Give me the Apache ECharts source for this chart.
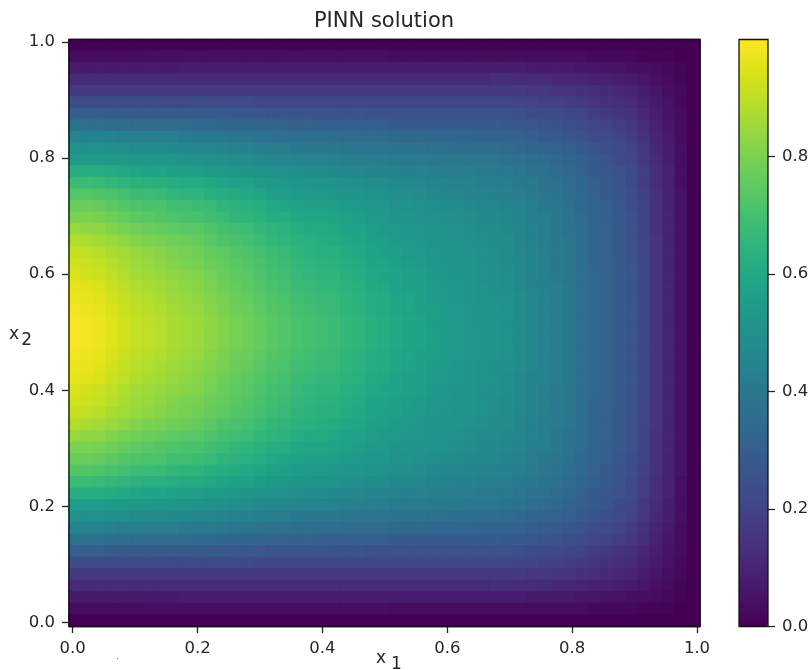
<!DOCTYPE html>
<html><head><meta charset="utf-8">
<style>html,body{margin:0;padding:0;background:#fff}#c{width:811px;height:670px}</style>
<script src="https://cdn.jsdelivr.net/npm/echarts@6/dist/echarts.min.js"></script>
</head><body><div id="c"></div>
<script>
const chartTitle = 'PINN solution';
const x1Categories = Array.from({length:51},(_, i)=>(i*0.02).toFixed(2));
const x2Categories = Array.from({length:51},(_, i)=>(i*0.02).toFixed(2));
const colorbarTicks = [0,0.2,0.4,0.6,0.8];
const viridis = ['#440154','#471365','#482475','#463480','#414487','#3b528b','#355f8d','#2f6c8e','#2a788e','#25848e','#21918c','#1e9c89','#22a884','#2fb47c','#44bf70','#5ec962','#7ad151','#9bd93c','#bddf26','#dfe318','#fde725'];
// solution values in hundredths; first row is x2 = 1.0, last row is x2 = 0.0; columns run x1 = 0 to 1
const solution = [
[0,0,0,0,0,0,0,0,0,0,0,0,0,0,0,0,0,0,0,0,0,0,0,0,0,0,0,0,0,0,0,0,0,0,0,0,0,0,0,0,0,0,0,0,0,0,0,0,0,0,0],
[3,3,3,3,3,3,4,4,4,4,4,4,4,4,4,4,4,4,4,4,4,4,4,4,4,4,3,3,3,3,3,3,3,3,3,3,3,3,3,3,3,3,2,2,2,2,1,1,1,0,0],
[7,7,7,7,7,7,7,7,7,8,8,8,8,8,8,8,8,8,8,8,8,8,8,8,8,8,8,8,8,8,8,8,8,8,8,8,8,7,7,7,7,6,6,5,5,4,4,3,2,1,0],
[12,12,12,12,12,12,12,12,12,12,12,12,12,12,12,12,12,12,12,12,12,12,12,12,12,12,12,12,12,12,12,12,12,12,13,13,12,12,12,11,11,10,9,9,8,7,6,4,3,1,0],
[17,17,17,17,17,17,17,17,17,17,17,17,17,17,17,17,17,17,17,17,17,17,17,17,17,17,17,17,17,17,17,17,17,17,17,17,17,16,16,15,15,14,13,12,11,10,8,6,4,2,0],
[23,23,23,23,23,23,23,23,22,22,23,22,22,22,22,21,21,21,21,21,21,21,21,21,21,21,21,21,21,21,21,21,21,21,21,21,20,20,19,19,18,17,15,14,13,12,9,7,5,2,0],
[30,30,30,29,29,29,29,29,29,29,28,28,28,27,27,27,26,26,26,26,26,26,25,26,25,25,25,25,25,25,25,25,25,25,25,25,24,23,23,22,21,20,18,17,15,14,11,8,5,3,0],
[37,37,37,36,36,35,35,35,35,35,34,34,33,33,33,32,32,31,31,31,30,30,30,30,30,30,29,29,29,29,29,29,29,29,29,28,28,27,26,25,24,23,21,20,18,16,13,9,6,3,0],
[45,44,44,44,43,43,42,42,42,41,41,41,40,39,39,38,37,37,36,36,36,36,35,35,35,35,34,34,34,33,33,33,33,32,32,32,31,30,29,28,27,25,23,22,20,18,14,10,7,3,0],
[50,50,50,49,49,48,48,48,47,47,46,46,45,44,44,43,42,42,41,40,40,40,39,39,39,39,38,38,38,37,37,36,36,36,36,35,34,33,32,31,30,28,26,24,22,20,16,11,8,4,0],
[55,55,55,54,54,53,53,52,52,51,51,50,49,48,48,47,46,46,45,45,44,44,43,43,42,42,41,41,41,40,40,40,39,39,39,38,37,36,35,34,32,30,28,26,23,21,17,12,8,4,0],
[62,62,62,61,60,59,58,58,57,57,56,55,54,53,52,51,50,50,49,48,48,47,47,46,45,45,44,44,44,43,42,42,42,41,41,41,39,38,37,35,34,31,29,27,25,22,18,13,9,4,0],
[68,68,67,66,65,64,63,63,62,61,61,60,58,57,57,55,54,53,52,52,51,51,50,49,48,48,47,47,46,45,45,44,44,43,43,42,41,40,38,37,35,33,30,28,26,23,18,13,9,4,0],
[73,73,72,71,70,68,68,67,66,65,65,63,62,61,60,59,57,56,55,54,54,53,52,52,51,50,49,49,48,47,46,46,45,45,44,44,42,41,39,38,36,34,31,29,26,24,19,14,9,5,0],
[77,77,76,75,73,72,71,71,69,69,68,67,65,64,63,62,60,59,58,57,57,56,55,54,53,53,51,51,50,49,48,48,47,46,46,45,44,42,40,39,37,34,32,30,27,24,20,14,9,5,0],
[80,80,79,78,76,75,74,73,72,71,71,69,68,66,65,64,62,62,60,59,59,58,57,56,54,54,52,52,51,50,50,49,48,47,47,46,45,43,42,40,38,35,32,30,28,25,20,14,10,5,0],
[84,83,83,81,79,78,77,76,75,74,74,72,70,69,68,66,65,64,62,61,61,60,58,58,56,55,54,53,53,52,51,50,49,48,48,47,46,44,42,40,38,36,33,31,28,25,20,14,10,5,0],
[88,87,86,85,83,81,80,79,78,77,76,74,72,71,70,68,66,65,64,63,62,61,60,59,57,56,55,54,53,52,51,51,50,49,48,48,46,44,42,41,39,36,33,31,28,25,20,15,10,5,0],
[91,90,89,87,86,84,83,82,80,79,78,76,75,73,72,70,68,67,65,64,63,63,61,60,58,57,56,55,54,53,52,51,51,50,49,48,46,45,43,41,39,36,33,31,28,25,21,15,10,5,0],
[93,92,91,89,87,85,84,83,81,80,79,77,76,74,73,71,69,68,66,65,64,64,62,61,59,58,57,56,55,53,53,52,51,50,49,48,47,45,43,41,39,36,33,31,29,26,21,15,10,5,0],
[94,93,92,90,88,86,85,84,83,82,81,79,77,75,74,72,70,69,67,66,65,65,63,62,60,59,58,57,56,54,53,52,51,50,50,49,47,45,43,41,39,37,34,32,29,26,21,15,10,5,0],
[96,95,94,92,90,88,87,86,84,83,82,80,78,76,75,73,71,70,68,67,66,66,64,63,61,60,58,57,56,55,54,53,52,51,50,49,47,45,44,42,40,37,34,32,29,26,21,15,10,5,0],
[97,96,95,93,91,89,88,87,85,84,83,81,79,77,76,74,72,71,69,68,67,67,65,64,62,61,59,58,57,55,54,53,52,51,50,50,48,46,44,42,40,37,34,32,29,26,21,15,10,5,0],
[98,97,96,94,92,90,89,88,86,85,84,82,80,78,77,75,73,72,70,69,68,67,65,64,62,61,59,58,57,56,55,54,53,52,51,50,48,46,44,42,40,37,34,32,29,26,21,15,10,5,0],
[99,98,97,95,93,91,90,89,87,86,85,83,81,79,78,76,74,73,71,70,69,68,66,65,63,62,60,59,58,56,55,54,53,52,51,50,48,46,44,42,40,37,34,32,29,26,21,15,10,5,0],
[99,98,97,95,93,91,90,89,87,86,85,83,81,79,78,76,74,73,71,70,69,68,66,65,63,62,60,59,58,56,55,54,53,52,51,50,48,46,44,42,40,37,34,32,29,26,21,15,10,5,0],
[99,98,97,95,93,91,90,89,87,86,85,83,81,79,78,76,74,73,71,70,69,68,66,65,63,62,60,59,58,56,55,54,53,52,51,50,48,46,44,42,40,37,34,32,29,26,21,15,10,5,0],
[98,97,96,94,92,90,89,88,86,85,84,82,80,78,77,75,73,72,70,69,68,67,65,64,62,61,59,58,57,56,55,54,53,52,51,50,48,46,44,42,40,37,34,32,29,26,21,15,10,5,0],
[97,96,95,93,91,89,88,87,85,84,83,81,79,77,76,74,72,71,69,68,67,67,65,64,62,61,59,58,57,55,54,53,52,51,50,50,48,46,44,42,40,37,34,32,29,26,21,15,10,5,0],
[96,95,94,92,90,88,87,86,84,83,82,80,78,76,75,73,71,70,68,67,66,66,64,63,61,60,58,57,56,55,54,53,52,51,50,49,47,45,44,42,40,37,34,32,29,26,21,15,10,5,0],
[94,93,92,90,88,86,85,84,83,82,81,79,77,75,74,72,70,69,67,66,65,65,63,62,60,59,58,57,56,54,53,52,51,50,50,49,47,45,43,41,39,37,34,32,29,26,21,15,10,5,0],
[93,92,91,89,87,85,84,83,81,80,79,77,76,74,73,71,69,68,66,65,64,64,62,61,59,58,57,56,55,53,53,52,51,50,49,48,47,45,43,41,39,36,33,31,29,26,21,15,10,5,0],
[91,90,89,87,86,84,83,82,80,79,78,76,75,73,72,70,68,67,65,64,63,63,61,60,58,57,56,55,54,53,52,51,51,50,49,48,46,45,43,41,39,36,33,31,28,25,21,15,10,5,0],
[88,87,86,85,83,81,80,79,78,77,76,74,72,71,70,68,66,65,64,63,62,61,60,59,57,56,55,54,53,52,51,51,50,49,48,48,46,44,42,41,39,36,33,31,28,25,20,15,10,5,0],
[84,83,83,81,79,78,77,76,75,74,74,72,70,69,68,66,65,64,62,61,61,60,58,58,56,55,54,53,53,52,51,50,49,48,48,47,46,44,42,40,38,36,33,31,28,25,20,14,10,5,0],
[80,80,79,78,76,75,74,73,72,71,71,69,68,66,65,64,62,62,60,59,59,58,57,56,54,54,52,52,51,50,50,49,48,47,47,46,45,43,42,40,38,35,32,30,28,25,20,14,10,5,0],
[77,77,76,75,73,72,71,71,69,69,68,67,65,64,63,62,60,59,58,57,57,56,55,54,53,53,51,51,50,49,48,48,47,46,46,45,44,42,40,39,37,34,32,30,27,24,20,14,9,5,0],
[73,73,72,71,70,68,68,67,66,65,65,63,62,61,60,59,57,56,55,54,54,53,52,52,51,50,49,49,48,47,46,46,45,45,44,44,42,41,39,38,36,34,31,29,26,24,19,14,9,5,0],
[68,68,67,66,65,64,63,63,62,61,61,60,58,57,57,55,54,53,52,52,51,51,50,49,48,48,47,47,46,45,45,44,44,43,43,42,41,40,38,37,35,33,30,28,26,23,18,13,9,4,0],
[62,62,62,61,60,59,58,58,57,57,56,55,54,53,52,51,50,50,49,48,48,47,47,46,45,45,44,44,44,43,42,42,42,41,41,41,39,38,37,35,34,31,29,27,25,22,18,13,9,4,0],
[55,55,55,54,54,53,53,52,52,51,51,50,49,48,48,47,46,46,45,45,44,44,43,43,42,42,41,41,41,40,40,40,39,39,39,38,37,36,35,34,32,30,28,26,23,21,17,12,8,4,0],
[50,50,50,49,49,48,48,48,47,47,46,46,45,44,44,43,42,42,41,40,40,40,39,39,39,39,38,38,38,37,37,36,36,36,36,35,34,33,32,31,30,28,26,24,22,20,16,11,8,4,0],
[45,44,44,44,43,43,42,42,42,41,41,41,40,39,39,38,37,37,36,36,36,36,35,35,35,35,34,34,34,33,33,33,33,32,32,32,31,30,29,28,27,25,23,22,20,18,14,10,7,3,0],
[37,37,37,36,36,35,35,35,35,35,34,34,33,33,33,32,32,31,31,31,30,30,30,30,30,30,29,29,29,29,29,29,29,29,29,28,28,27,26,25,24,23,21,20,18,16,13,9,6,3,0],
[30,30,30,29,29,29,29,29,29,29,28,28,28,27,27,27,26,26,26,26,26,26,25,26,25,25,25,25,25,25,25,25,25,25,25,25,24,23,23,22,21,20,18,17,15,14,11,8,5,3,0],
[23,23,23,23,23,23,23,23,22,22,23,22,22,22,22,21,21,21,21,21,21,21,21,21,21,21,21,21,21,21,21,21,21,21,21,21,20,20,19,19,18,17,15,14,13,12,9,7,5,2,0],
[17,17,17,17,17,17,17,17,17,17,17,17,17,17,17,17,17,17,17,17,17,17,17,17,17,17,17,17,17,17,17,17,17,17,17,17,17,16,16,15,15,14,13,12,11,10,8,6,4,2,0],
[12,12,12,12,12,12,12,12,12,12,12,12,12,12,12,12,12,12,12,12,12,12,12,12,12,12,12,12,12,12,12,12,12,12,13,13,12,12,12,11,11,10,9,9,8,7,6,4,3,1,0],
[7,7,7,7,7,7,7,7,7,8,8,8,8,8,8,8,8,8,8,8,8,8,8,8,8,8,8,8,8,8,8,8,8,8,8,8,8,7,7,7,7,6,6,5,5,4,4,3,2,1,0],
[3,3,3,3,3,3,4,4,4,4,4,4,4,4,4,4,4,4,4,4,4,4,4,4,4,4,3,3,3,3,3,3,3,3,3,3,3,3,3,3,3,3,2,2,2,2,1,1,1,0,0],
[0,0,0,0,0,0,0,0,0,0,0,0,0,0,0,0,0,0,0,0,0,0,0,0,0,0,0,0,0,0,0,0,0,0,0,0,0,0,0,0,0,0,0,0,0,0,0,0,0,0,0]
];
const cells = [];
solution.forEach((row, r) => row.forEach((v, c) => cells.push({
  value:[c, 50 - r, v / 100],
  itemStyle:{borderWidth:1, borderColor:echarts.color.lerp(v / 99.9, viridis)}
})));

const FONT = 'DejaVu Sans';
const INK = '#262626';
const fmt = v => v.toFixed(1);
const hiddenCat = (gridIndex, data) => ({type:'category', gridIndex, data, show:false});
const tickStyle = {color:'#222', width:1.3};
const tickAxis = (gridIndex, extra) => Object.assign({
  type:'value', gridIndex, min:0, max:1, interval:0.2, splitLine:{show:false},
  axisLine:{show:true, onZero:false, lineStyle:{color:'rgba(0,0,0,0)'}},
  axisTick:{show:true, length:7, lineStyle:tickStyle},
  axisLabel:{color:INK, fontFamily:FONT, fontSize:16.5, margin:14, formatter:fmt}
}, extra);
const richFor = gap => ({
  a:{fontFamily:FONT, fontSize:17, color:INK},
  b:{fontFamily:FONT, fontSize:17, color:INK, padding:[12,0,0,gap]}
});

const chart = echarts.init(document.getElementById('c'), null, {renderer:'canvas'});
chart.setOption({
  animation:false,
  backgroundColor:'#fff',
  title:{text:chartTitle, left:379, top:6, textAlign:'center',
    textStyle:{fontFamily:FONT, fontSize:21, fontWeight:'normal', color:INK}},
  grid:[
    {left:69, top:39.5, width:631, height:587, show:true, z:5, backgroundColor:'transparent', borderColor:'#111', borderWidth:1.3, outerBoundsMode:'none'},
    {left:72.7, top:41.8, width:624.3, height:580.7, show:false, outerBoundsMode:'none'},
    {left:739, top:39.5, width:29, height:587, show:true, z:5, backgroundColor:'transparent', borderColor:'#111', borderWidth:1.3, outerBoundsMode:'none'}
  ],
  xAxis:[
    hiddenCat(0, x1Categories),
    tickAxis(1, {position:'bottom', offset:3.5, name:'{a|x}{b|1}', nameLocation:'middle', nameGap:18, nameMoveOverlap:false,
      nameTextStyle:{rich:richFor(5), padding:[0,0,0,8]}}),
    {type:'value', gridIndex:2, show:false, min:0, max:1}
  ],
  yAxis:[
    hiddenCat(0, x2Categories),
    tickAxis(1, {position:'left', offset:3.7, name:'{a|x}{b|2}', nameLocation:'middle', nameGap:37, nameRotate:0, nameMoveOverlap:false,
      nameTextStyle:{rich:richFor(2), padding:[4,0,0,0]}}),
    tickAxis(2, {position:'right', min:0, max:0.999, interval:0.2,
      axisTick:{show:true, length:7, customValues:colorbarTicks, lineStyle:tickStyle},
      axisLabel:{color:INK, fontFamily:FONT, fontSize:16.5, margin:14, customValues:colorbarTicks, formatter:fmt}})
  ],
  visualMap:{type:'continuous', min:0, max:0.999, calculable:false, seriesIndex:0, show:true,
    left:739, top:39.5, itemWidth:29, itemHeight:587, padding:0, text:null, z:1, showLabel:false,
    textStyle:{fontSize:0},
    inRange:{color:viridis}},
  series:[{type:'heatmap', xAxisIndex:0, yAxisIndex:0, data:cells, progressive:0, emphasis:{disabled:true}}],
  graphic:[{type:'text', left:116, top:651, style:{text:'.', font:'10px DejaVu Sans', fill:'#777'}, silent:true}]
});
</script></body></html>
